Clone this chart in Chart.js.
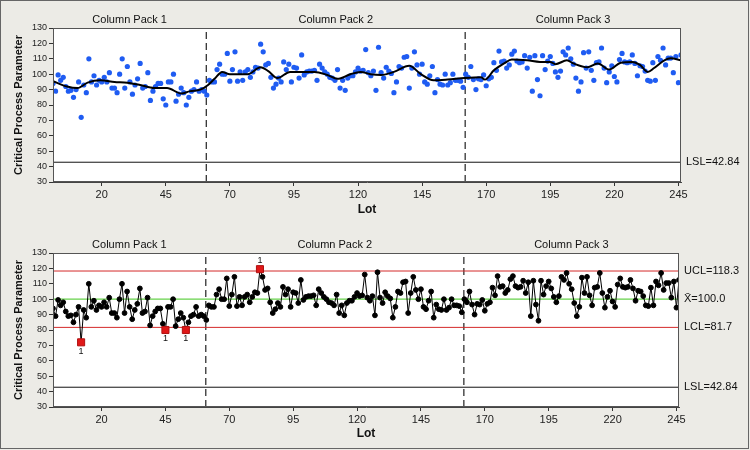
<!DOCTYPE html>
<html><head><meta charset="utf-8">
<script src="https://cdn.jsdelivr.net/npm/chart.js@4.4.1/dist/chart.umd.min.js"></script>
<style>
html,body{margin:0;padding:0;background:#ecebe6;width:750px;height:450px;overflow:hidden;}
#frame{position:absolute;left:0;top:0;width:747px;height:447px;border:1px solid #666;}
canvas{position:absolute;left:0;}
#c1{top:0px}
#c2{top:222px}
</style></head><body>
<div id="frame"></div>
<canvas id="c1" width="750" height="222"></canvas>
<canvas id="c2" width="750" height="228"></canvas>
<script>
// ---- data ----
const pack1 = [94,89,99.5,96,98,92,89,89.5,85,90, 95,72,93,88,110,95,99,93,96,95,
  98,95,101,91,91,88,100,110,91,105, 95,87,93,97,107,91,92,101,83,89,
  92,94,94,84,80,95,95,100,82.5,87, 91,88,80,85,89,90,95,89,90,89, 86.5];
const pack2 = [96,95,95,103,106.5,100,100,113.5,95.5,103, 114.5,95.5,101.5,96,101.5,103,98,101.5,104.5,104,
  119.5,114.5,106,107,98,91,93.5,97.5,95,108, 103,106.5,95,104.5,104,97.5,112.5,99.5,101.5,102,
  102,102.5,96,106.5,104,101.5,100,98,97.5,96, 103,91,96,89.5,97.5,99,99,101.5,104,102,
  102.5,116,101,99,102,89.5,117.5,101,97.5,104.5, 102,100.5,88,95,105,104,111,111.5,91,104,
  114.5,106,100,106.5,95,93.5,99,105,88,96.5, 93.5,93,100,93,94.5,100,96,96,95.5,91.5];
const pack3 = [100,98,105,96.5,90,97,96.5,99.5,92.5,97, 98,107.5,102.5,115,108,108.5,104,106,113,115,
  108.5,107.5,108,112,104,111,89,112,96.5,86, 112,103,108.5,111.5,107,101.5,98,102,114.5,112.5,
  117,110,106.5,97.5,89,95,114,104,114.5,102.5, 96,107.5,108,117,104,94.5,101.5,105.5,98.5,95,
  109.5,113.5,108,107.5,108,112.5,107,99,105.5,105, 102,96,95.5,107.5,96,111.5,109,117,106,110.5,
  110.5,101,111.5,94.5,112.5];
const packNames = ['Column Pack 1','Column Pack 2','Column Pack 3'];
const packBreaks = [60.8, 161.8];
const xTicks = [20,45,70,95,120,145,170,195,220,245];
const xRange = [1, 246];
const yRange = [30, 130];
const smoothLots = [1,6.5,10.5,14.5,19.5,25,30,35,40.5,45.5, 51,54.5,58.5,61.5,64,67,70,77,82,85,
  88.5,93.5,103,108,112,117,121,125,129,134, 140,144.5,149.5,155,161.5,168,169.5,173,177,180,
  186,191,195,197,201.5,204,209.5,213.5,218,222.5, 227,230,233,235.5,239.5,242,246];
const smoothVals = [95.5,92,91,94.5,96,95,94.5,93,91,91, 87.5,89,90,93,97,101.5,100,100,104.5,102,
  97.5,101.5,101.5,99.5,97,100,101.5,100,99.5,101.5, 105.5,100,96,96.5,97.5,98,96.5,102.5,107,109.5,
  109,108,108,106.5,109,107,104.5,107,103,107.5, 108,106,101.5,104,109,110.3,109];
const UCL = 118.3, CL = 100.0, LCL = 81.7, LSL = 42.84;
const limitLabels = ['UCL=118.3', 'X\u0304=100.0', 'LCL=81.7', 'LSL=42.84'];
const yTitle = 'Critical Process Parameter';
const xTitle = 'Lot';

// ---- build ----
const values = pack1.concat(pack2, pack3);
const pts = values.map((v, i) => ({x: i + 1, y: v}));
const FONT = "'Liberation Sans', Arial, sans-serif";
const ooc = v => v > UCL || v < LCL;
const hline = y => [{x: xRange[0], y}, {x: xRange[1], y}];
const vline = x => [{x, y: yRange[0]}, {x, y: yRange[1]}];

function refSet(data, color, dash, order, width) {
  return {data, showLine: true, borderColor: color, borderWidth: width || 1, borderDash: dash || [],
          pointRadius: 0, order, fill: false, tension: 0};
}

function scales(xPad, tickPad) {
  return {
    x: {type: 'linear', min: xRange[0], max: xRange[1],
        afterBuildTicks: s => { s.ticks = xTicks.map(v => ({value: v})); },
        afterFit: s => { s.height = xPad.h; },
        ticks: {font: {family: FONT, size: 11}, color: '#222', padding: tickPad, maxRotation: 0, autoSkip: false},
        grid: {drawOnChartArea: false, tickLength: 4, color: '#333'},
        border: {color: '#444'},
        title: {display: true, text: xTitle, color: '#111', font: {family: FONT, size: 12, weight: 'bold'},
                padding: {top: 0, bottom: xPad.tb}}},
    y: {min: yRange[0], max: yRange[1],
        afterFit: s => { s.width = 53; },
        ticks: {stepSize: 10, font: {family: FONT, size: 9}, color: '#222', padding: 2},
        grid: {drawOnChartArea: false, tickLength: 4, color: '#333'},
        border: {color: '#444'},
        title: {display: true, text: yTitle, color: '#111', font: {family: FONT, size: 11, weight: 'bold'},
                padding: {top: 12, bottom: 0}}}
  };
}

function decorPlugin(labels) {
  return {
    id: 'decor',
    beforeDraw(chart) {
      const a = chart.chartArea, c = chart.ctx;
      c.save(); c.fillStyle = '#ffffff'; c.fillRect(a.left, a.top, a.right - a.left, a.bottom - a.top); c.restore();
    },
    afterDraw(chart) {
      const a = chart.chartArea, c = chart.ctx, xs = chart.scales.x, ys = chart.scales.y;
      c.save();
      c.strokeStyle = '#555'; c.lineWidth = 1;
      c.strokeRect(a.left + 0.5, a.top + 0.5, a.right - a.left - 1, a.bottom - a.top - 1);
      c.fillStyle = '#111'; c.font = '11px ' + FONT; c.textAlign = 'center'; c.textBaseline = 'middle';
      const edges = [xRange[0]].concat(packBreaks, [xRange[1]]);
      packNames.forEach((n, i) => {
        const cx = (xs.getPixelForValue(edges[i]) + xs.getPixelForValue(edges[i + 1])) / 2;
        c.fillText(n, cx, a.top - 8);
      });
      c.textAlign = 'left';
      labels.forEach(([t, v]) => c.fillText(t, a.right + 5, ys.getPixelForValue(v)));
      c.restore();
    }
  };
}

const testPlugin = {
  id: 'tests',
  afterDatasetsDraw(chart) {
    const meta = chart.getDatasetMeta(0), c = chart.ctx;
    c.save(); c.fillStyle = '#111'; c.font = '9px ' + FONT; c.textAlign = 'center'; c.textBaseline = 'middle';
    values.forEach((v, i) => {
      if (!ooc(v)) return;
      const el = meta.data[i];
      c.fillText('1', el.x, v < LCL ? el.y + 9 : el.y - 9);
    });
    c.restore();
  }
};

const common = {responsive: false, animation: false, devicePixelRatio: 1,
  plugins: {legend: {display: false}, tooltip: {enabled: false}}};

new Chart(document.getElementById('c1'), {
  type: 'scatter',
  data: {datasets: [
    {data: pts, pointRadius: 2.6, pointBackgroundColor: '#1f5cf2', pointBorderColor: '#1f5cf2', pointBorderWidth: 0, order: 1},
    {data: smoothLots.map((x, i) => ({x, y: smoothVals[i]})), showLine: true, borderColor: '#000', borderWidth: 2,
     pointRadius: 0, tension: 0.4, cubicInterpolationMode: 'monotone', order: 0},
    refSet(hline(LSL), '#111', [], 3),
    refSet(vline(packBreaks[0]), '#222', [7, 4], 3, 1.2),
    refSet(vline(packBreaks[1]), '#222', [7, 4], 3, 1.2)
  ]},
  options: Object.assign({}, common, {
    layout: {padding: {left: 0, right: 69, top: 28, bottom: 0}},
    scales: scales({h: 40, tb: 5}, 2)
  }),
  plugins: [decorPlugin([[limitLabels[3], LSL]])]
});

new Chart(document.getElementById('c2'), {
  type: 'scatter',
  data: {datasets: [
    {data: pts, showLine: true, borderColor: '#000', borderWidth: 1, tension: 0,
     pointRadius: c => ooc(values[c.dataIndex]) ? 5 : 2.4,
     pointStyle: c => ooc(values[c.dataIndex]) ? 'rect' : 'circle',
     pointBackgroundColor: c => ooc(values[c.dataIndex]) ? '#e01818' : '#000',
     pointBorderColor: c => ooc(values[c.dataIndex]) ? '#b01010' : '#000',
     pointBorderWidth: 1, order: 0},
    refSet(hline(UCL), '#d42a2a', [], 2),
    refSet(hline(CL), '#66d24a', [], 2, 1.3),
    refSet(hline(LCL), '#d42a2a', [], 2),
    refSet(hline(LSL), '#111', [], 3),
    refSet(vline(packBreaks[0]), '#222', [7, 4], 3, 1.2),
    refSet(vline(packBreaks[1]), '#222', [7, 4], 3, 1.2)
  ]},
  options: Object.assign({}, common, {
    layout: {padding: {left: 0, right: 71, top: 31, bottom: 0}},
    scales: scales({h: 43, tb: 9}, 2)
  }),
  plugins: [decorPlugin([[limitLabels[0], UCL], [limitLabels[1], CL], [limitLabels[2], LCL], [limitLabels[3], LSL]]), testPlugin]
});
</script>
</body></html>
